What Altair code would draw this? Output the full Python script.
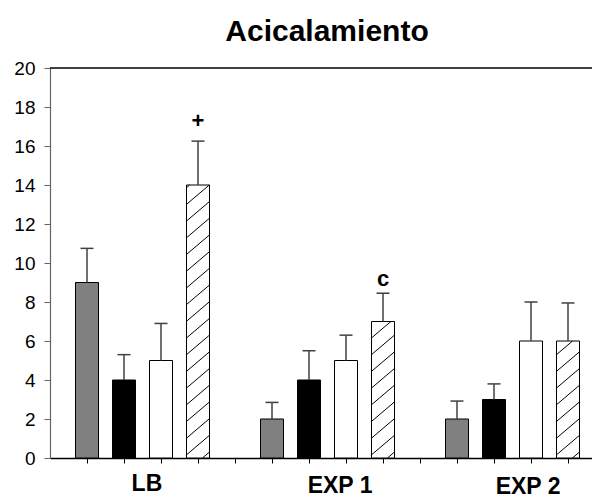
import altair as alt
import pandas as pd

# ---- data ----
groups = ["LB", "EXP 1", "EXP 2"]
series = ["gris", "negro", "blanco", "rayado"]
means_LB = [9, 4, 5, 14]
means_EXP1 = [2, 4, 5, 7]
means_EXP2 = [2, 3, 6, 6]
errs_LB = [1.75, 1.3, 1.9, 2.25]
errs_EXP1 = [0.85, 1.5, 1.3, 1.45]
errs_EXP2 = [0.92, 0.8, 2.0, 1.95]
marks_text = ["+", "c"]
marks_group = ["LB", "EXP 1"]
marks_series = ["rayado", "rayado"]
marks_y = [17.3, 9.2]
y_ticks = list(range(0, 21, 2))

# ---- layout / style constants ----
W, H = 542, 390
XMAX = 542 / 37.0
PX = W / XMAX
PY = H / 20.0
BAR_HALF = 11.5 / PX
CAP_HALF = 6.5 / PX
FONT = "Liberation Sans"
fills = {"gris": "#808080", "negro": "#000000", "blanco": "#ffffff", "rayado": "#ffffff"}

means = [means_LB, means_EXP1, means_EXP2]
errs = [errs_LB, errs_EXP1, errs_EXP2]

rows = []
for g, gname in enumerate(groups):
    for s, sname in enumerate(series):
        slot = 1 + 5 * g + s
        rows.append(dict(group=gname, serie=sname, slot=slot,
                         x0=slot - BAR_HALF, x1=slot + BAR_HALF,
                         cx0=slot - CAP_HALF, cx1=slot + CAP_HALF,
                         mean=means[g][s], top=means[g][s] + errs[g][s],
                         fill=fills[sname]))
df = pd.DataFrame(rows)

# hatch segments for the striped bars (derived from the bar values)
hatch = []
k = 0.85
step = 16.7
bw = 2 * BAR_HALF * PX
for r in rows:
    if r["serie"] != "rayado":
        continue
    bh = r["mean"] * PY
    b = -k * bw + 6
    while b < bh:
        xs = max(0.0, (0 - b) / k)
        xe = min(bw, (bh - b) / k)
        if xs < xe:
            hatch.append(dict(hx0=r["x0"] + xs / PX, hy0=(b + k * xs) / PY,
                              hx1=r["x0"] + xe / PX, hy1=(b + k * xe) / PY))
        b += step
hdf = pd.DataFrame(hatch)

slot_of = {(r["group"], r["serie"]): r["slot"] for r in rows}
ann = pd.DataFrame(dict(t=marks_text,
                        slot=[slot_of[(g, s)] for g, s in zip(marks_group, marks_series)],
                        y=marks_y))

xscale = alt.Scale(domain=[0, XMAX], nice=False, zero=False)
yscale = alt.Scale(domain=[0, 20], nice=False)

xaxis = alt.Axis(values=list(range(1, 15)), labels=False, title=None, grid=False,
                 tickSize=5, tickColor="#000000", domainColor="#000000", domainWidth=1.5,
                 tickWidth=1)
yaxis = alt.Axis(values=y_ticks, title=None, grid=False, tickSize=6, labelPadding=9,
                 labelFont=FONT, labelFontSize=19, labelColor="#000000", labelOverlap=False,
                 domainColor="#666666", tickColor="#666666", domainWidth=1.2)


def X(f):
    return alt.X(f, type="quantitative", scale=xscale, axis=xaxis)


def Y(f):
    return alt.Y(f, type="quantitative", scale=yscale, axis=yaxis)


base = alt.Chart(df)

bars = base.mark_bar(stroke="#000000", strokeWidth=1).encode(
    x=X("x0"),
    x2="x1:Q",
    y=Y("mean"),
    y2=alt.datum(0),
    fill=alt.Fill("fill:N", scale=None),
)

hatch_lines = alt.Chart(hdf).mark_rule(color="#000000", strokeWidth=1).encode(
    x=X("hx0"), y=Y("hy0"), x2="hx1:Q", y2="hy1:Q")

stems = base.mark_rule(color="#404040", strokeWidth=1.5).encode(
    x=X("slot"), y=Y("mean"), y2="top:Q")
caps = base.mark_rule(color="#404040", strokeWidth=1.5).encode(
    x=X("cx0"), x2="cx1:Q", y=Y("top"))

ann_text = alt.Chart(ann).mark_text(font=FONT, fontSize=22, fontWeight="bold",
                                    baseline="middle", color="#000000").encode(
    x=X("slot"), y=Y("y"), text="t:N")

lab_df = pd.DataFrame(dict(g=groups,
                           cx=[(slot_of[(g, series[0])] + slot_of[(g, series[3])]) / 2 for g in groups]))
lab_df["cx"] = lab_df["cx"] + pd.Series([0.12, 0.34, 0.42])
lab_df["py"] = [416, 418, 419]
group_labels = alt.Chart(lab_df).mark_text(font=FONT, fontSize=23, fontWeight="bold",
                                           baseline="middle", color="#000000").encode(
    x=X("cx"), y=alt.Y("py:Q", scale=None), text="g:N")

title = alt.Chart(pd.DataFrame(dict(t=["Acicalamiento"]))).mark_text(
    font=FONT, fontSize=30, fontWeight="bold", baseline="middle", color="#000000").encode(
    x=alt.value(277), y=alt.value(-36), text="t:N")

top_line = alt.Chart(pd.DataFrame(dict(a=[0]))).mark_rule(color="#000000", strokeWidth=1.5).encode(
    x=alt.value(0), x2=alt.value(W), y=alt.value(0))

chart = alt.layer(bars, hatch_lines, stems, caps, ann_text, group_labels, title, top_line).properties(
    width=W, height=H,
    autosize=alt.AutoSizeParams(type="none"),
    padding={"left": 42, "top": 60, "right": 0, "bottom": 40},
).configure_view(stroke=None)

chart.save("out.html", embed_options={"renderer": "svg", "actions": False})
